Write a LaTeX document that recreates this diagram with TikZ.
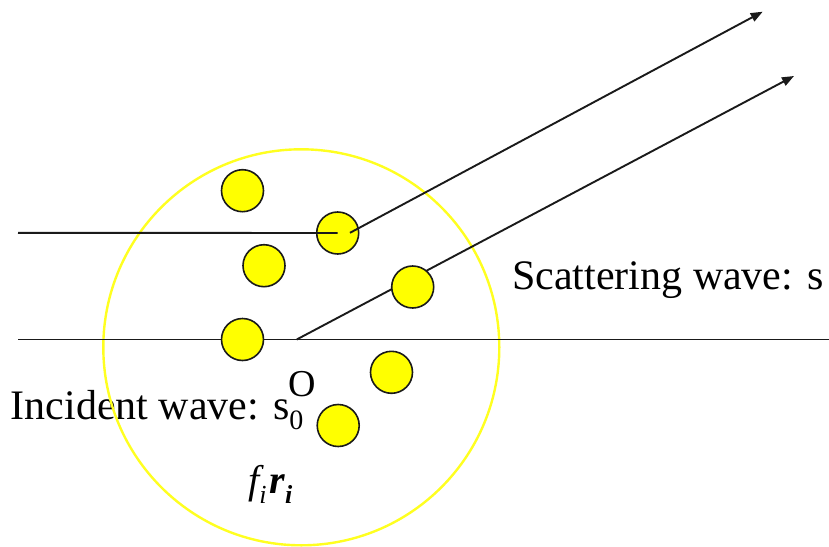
\documentclass[tikz,border=0pt]{standalone}
\usepackage{fontspec}
\setmainfont{Liberation Serif}
\usetikzlibrary{arrows.meta}
\definecolor{ink}{HTML}{1A1A1A}
\definecolor{ballyellow}{HTML}{FFFF00}
\definecolor{ringyellow}{HTML}{FFFF20}
\tikzset{
  ball/.style={circle, draw=ink, line width=1.6pt, fill=ballyellow, minimum size=42pt, inner sep=0pt},
  ray/.style={draw=ink, line width=1.9pt},
  scat/.style={ray, -{Triangle[length=12pt,width=9pt]}},
  ring/.style={draw=ringyellow, line width=2.4pt},
  lab/.style={inner sep=0pt, anchor=base west, text=black}
}
\begin{document}
\begin{tikzpicture}[x=1pt,y=-1pt]
\useasboundingbox (0,0) rectangle (829,546);
% labels
\node[lab] (scatlab) at (512,289.3) {\fontsize{42}{42}\selectfont Scattering wave: s};
\node[lab] (inclab) at (10.5,419.3) {\fontsize{42}{42}\selectfont Incident wave: s\raisebox{-10.5pt}{\fontsize{28}{28}\selectfont 0}};
\node[inner sep=0pt, anchor=base] (olab) at (302.5,396.5) {\fontsize{38}{38}\selectfont O};
\node[lab] (flab) at (248,493) {\fontsize{40}{40}\selectfont\itshape f\raisebox{-10.5pt}{\fontsize{26}{26}\selectfont i}\hspace{3pt}\bfseries r\raisebox{-10.5pt}{\fontsize{26}{26}\selectfont i}};
% sample sphere
\node[ring, circle, minimum size=396pt, inner sep=0pt] (sphere) at (301.3,347.3) {};
% coordinates for rays
\coordinate (inTop) at (18,232.8);
\coordinate (inBot) at (18,339.5);
\coordinate (outBot) at (829,339.5);
\coordinate (O) at (296.7,339.5);
\coordinate (scatStart) at (350,232.8);
\coordinate (tipTop) at (762.7,11.7);
\coordinate (tipBot) at (794,76);
% rays behind balls
\draw[ray] (inBot) -- (outBot);
\draw[scat] (O) -- (tipBot);
% atoms
\node[ball] (a1) at (242.5,190.7) {};
\node[ball] (a2) at (337.7,233) {};
\node[ball] (a3) at (264,265.7) {};
\node[ball] (a4) at (412.7,287) {};
\node[ball] (a5) at (242.5,339.5) {};
\node[ball] (a6) at (391.5,372.3) {};
\node[ball] (a7) at (338.2,425.5) {};
% rays over the scattering atom
\draw[ray] (inTop) -- (a2.center);
\draw[scat] (scatStart) -- (tipTop);
\end{tikzpicture}
\end{document}
